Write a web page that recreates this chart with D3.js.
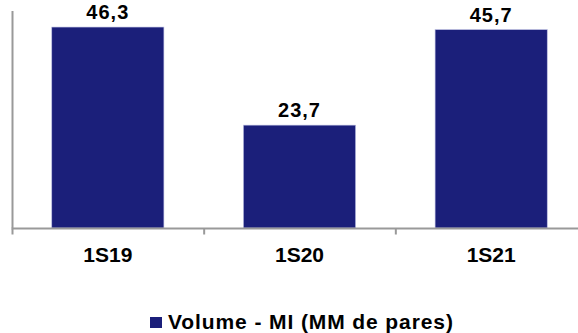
<!DOCTYPE html>
<html>
<head>
<meta charset="utf-8">
<script src="https://cdn.jsdelivr.net/npm/d3@7"></script>
<style>
  html, body { margin: 0; padding: 0; background: #fff; }
  svg { display: block; font-family: "Liberation Sans", Arial, sans-serif; }
</style>
</head>
<body>
<svg id="chart" width="578" height="333"></svg>
<script>
// Semester volumes (millions of pairs)
const categories = ["1S19", "1S20", "1S21"];
const volumes = [46.3, 23.7, 45.7];
const seriesName = "Volume - MI (MM de pares)";

const svg = d3.select("#chart");
const barColor = "#1b1f7a";
const axisColor = "#999999";

const x = d3.scaleBand()
  .domain(categories)
  .range([12, 587])
  .paddingInner(0.415)
  .paddingOuter(0.2075);

const y = d3.scaleLinear()
  .domain([0, 50])
  .range([228, 11]);

// Bars
svg.selectAll("rect.bar")
  .data(categories)
  .join("rect")
  .attr("class", "bar")
  .attr("x", d => x(d))
  .attr("width", x.bandwidth())
  .attr("y", (d, i) => y(volumes[i]))
  .attr("height", (d, i) => y(0) - y(volumes[i]))
  .attr("fill", barColor)
  .attr("stroke", "#b8bbe0")
  .attr("stroke-width", 0.6);

// Value labels
const fmt = v => d3.format(".1f")(v).replace(".", ",");
svg.selectAll("text.value")
  .data(categories)
  .join("text")
  .attr("class", "value")
  .attr("x", d => x(d) + x.bandwidth() / 2)
  .attr("y", (d, i) => y(volumes[i]) - 8)
  .attr("text-anchor", "middle")
  .attr("font-size", 20)
  .attr("font-weight", "bold")
  .attr("letter-spacing", 1)
  .attr("fill", "#000")
  .text((d, i) => fmt(volumes[i]));

// Y axis line (no ticks)
svg.append("line")
  .attr("x1", 12.5).attr("x2", 12.5)
  .attr("y1", y(50)).attr("y2", y(0))
  .attr("stroke", axisColor).attr("stroke-width", 2);

// X axis with boundary ticks between categories
const xAxisY = y(0) + 0.5;
svg.append("line")
  .attr("x1", 11.5).attr("x2", 587)
  .attr("y1", xAxisY).attr("y2", xAxisY)
  .attr("stroke", axisColor).attr("stroke-width", 2);

const step = x.step();
const boundaries = d3.range(categories.length).map(i => x(categories[i]) - x.paddingOuter() * step);
svg.selectAll("line.tick")
  .data(boundaries)
  .join("line")
  .attr("class", "tick")
  .attr("x1", d => d + 0.5).attr("x2", d => d + 0.5)
  .attr("y1", xAxisY).attr("y2", xAxisY + 6)
  .attr("stroke", axisColor).attr("stroke-width", 2);

// Category labels
svg.selectAll("text.cat")
  .data(categories)
  .join("text")
  .attr("class", "cat")
  .attr("x", d => x(d) + x.bandwidth() / 2)
  .attr("y", 261.5)
  .attr("text-anchor", "middle")
  .attr("font-size", 21)
  .attr("font-weight", "bold")
  .attr("fill", "#000")
  .text(d => d);

// Legend
const legend = svg.append("g").attr("transform", "translate(150,317)");
legend.append("rect")
  .attr("width", 12).attr("height", 11)
  .attr("fill", barColor);
legend.append("text")
  .attr("x", 18).attr("y", 11.5)
  .attr("font-size", 21)
  .attr("font-weight", "bold")
  .attr("letter-spacing", 0.9)
  .attr("fill", "#000")
  .text(seriesName);
</script>
</body>
</html>
